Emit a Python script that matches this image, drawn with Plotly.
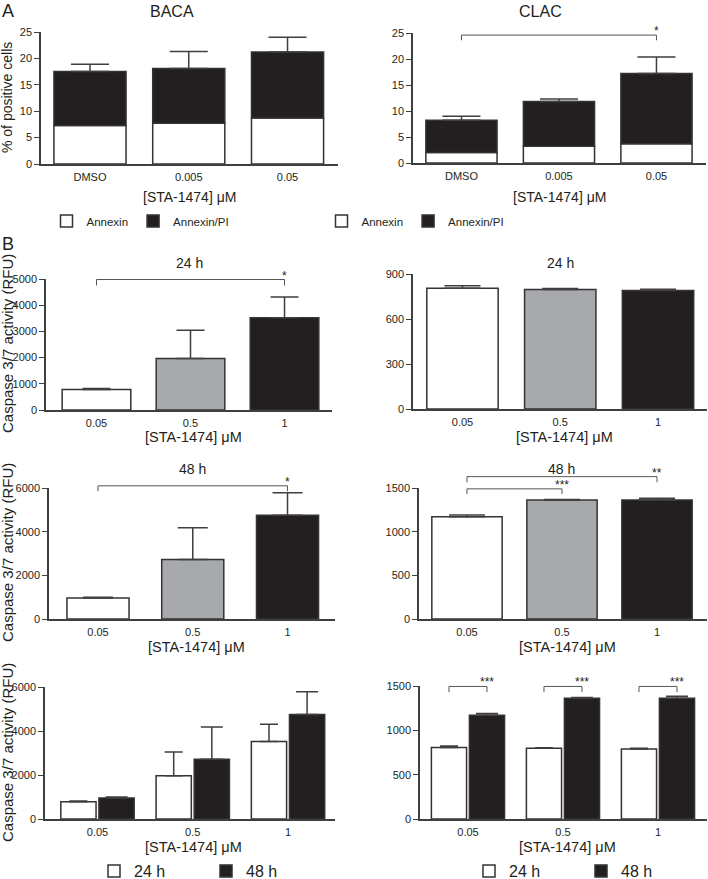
import plotly.graph_objects as go

W, H = 708, 879
FONT = "Liberation Sans, Arial, sans-serif"
TXT = "#231f20"
AX = "#3f3f3f"
WHITE, GRAY, BLACK = "#ffffff", "#a7a9ac", "#231f20"
EDGE = "#333333"

# ---------------- data ----------------
a_categories = ["DMSO", "0.005", "0.05"]
baca_annexin = [7.3, 7.7, 8.7]
baca_annexin_pi = [10.2, 10.4, 12.5]
baca_err = [1.4, 3.2, 2.8]
clac_annexin = [2.0, 3.2, 3.7]
clac_annexin_pi = [6.2, 8.65, 13.5]
clac_err = [0.8, 0.45, 3.2]

b_categories = ["0.05", "0.5", "1"]
baca_24h = [780, 1970, 3520]
baca_24h_err = [40, 1070, 790]
baca_48h = [960, 2720, 4750]
baca_48h_err = [40, 1460, 1030]
clac_24h = [805, 797, 790]
clac_24h_err = [17, 6, 9]
clac_48h = [1170, 1363, 1362]
clac_48h_err = [20, 6, 22]

ticks_a = [0, 5, 10, 15, 20, 25]
ticks_baca24 = [0, 1000, 2000, 3000, 4000, 5000]
ticks_clac24 = [0, 300, 600, 900]
ticks_baca48 = [0, 2000, 4000, 6000]
ticks_clac48 = [0, 500, 1000, 1500]

# ---------------- layout geometry (pixels) ----------------
# k: (left, right, top, bottom, xrange, yrange, yticks)
boxes = {
    1: (41, 338, 32, 164, [-0.496, 2.511], [0, 25], ticks_a),
    2: (413, 706, 33, 163, [-0.497, 2.508], [0, 25], ticks_a),
    3: (46, 332, 279, 410, [-0.537, 2.505], [0, 5000], ticks_baca24),
    4: (413, 707, 274, 409, [-0.506, 2.501], [0, 900], ticks_clac24),
    5: (49, 335, 488, 619, [-0.517, 2.501], [0, 6000], ticks_baca48),
    6: (419, 707, 488, 619, [-0.505, 2.526], [0, 1500], ticks_clac48),
    7: (45, 335, 687, 819, [-0.551, 2.493], [0, 6000], ticks_baca48),
    8: (420, 707, 686, 819, [-0.505, 2.516], [0, 1500], ticks_clac48),
}


def ax_name(k, letter):
    return letter if k == 1 else f"{letter}{k}"


def paper_xy(k, xv, yv):
    l, r, t, b, xr, yr, _ = boxes[k]
    px = l + (xv - xr[0]) / (xr[1] - xr[0]) * (r - l)
    py = b - (yv - yr[0]) / (yr[1] - yr[0]) * (b - t)
    return px / W, 1 - py / H


fig = go.Figure()

line = dict(color=EDGE, width=1.5)


def err(arr, w):
    return dict(type="data", symmetric=False, array=arr, arrayminus=[0] * len(arr),
                color=AX, thickness=1.5, width=w)


# ---------------- Panel A ----------------
for k, ann, api, e, lg in [(1, baca_annexin, baca_annexin_pi, baca_err, "legend"),
                           (2, clac_annexin, clac_annexin_pi, clac_err, "legend2")]:
    fig.add_trace(go.Bar(x=a_categories, y=ann, width=0.73, name="Annexin",
                         marker=dict(color=WHITE, line=line),
                         xaxis=ax_name(k, "x"), yaxis=ax_name(k, "y"), legend=lg))
    fig.add_trace(go.Bar(x=a_categories, y=api, base=ann, width=0.73, name="Annexin/PI",
                         marker=dict(color=BLACK, line=line), error_y=err(e, 19),
                         xaxis=ax_name(k, "x"), yaxis=ax_name(k, "y"), legend=lg))

# ---------------- Panel B rows 1-2 ----------------
for k, vals, e, wdt, cap in [(3, baca_24h, baca_24h_err, 0.73, 14),
                             (4, clac_24h, clac_24h_err, 0.73, 18),
                             (5, baca_48h, baca_48h_err, 0.655, 15),
                             (6, clac_48h, clac_48h_err, 0.74, 18)]:
    fig.add_trace(go.Bar(x=b_categories, y=vals, width=wdt, showlegend=False,
                         marker=dict(color=[WHITE, GRAY, BLACK], line=line),
                         error_y=err(e, cap),
                         xaxis=ax_name(k, "x"), yaxis=ax_name(k, "y")))

# ---------------- Panel B row 3 ----------------
for k, v24, e24, v48, e48, lg in [(7, baca_24h, baca_24h_err, baca_48h, baca_48h_err, "legend3"),
                                  (8, clac_24h, clac_24h_err, clac_48h, clac_48h_err, "legend4")]:
    fig.add_trace(go.Bar(x=b_categories, y=v24, width=0.37, offset=-0.385, name="24 h",
                         marker=dict(color=WHITE, line=line), error_y=err(e24, 9),
                         xaxis=ax_name(k, "x"), yaxis=ax_name(k, "y"), legend=lg))
    fig.add_trace(go.Bar(x=b_categories, y=v48, width=0.37, offset=0.015, name="48 h",
                         marker=dict(color=BLACK, line=line), error_y=err(e48, 11),
                         xaxis=ax_name(k, "x"), yaxis=ax_name(k, "y"), legend=lg))

# ---------------- axes ----------------
lay = {}
for k, (l, r, t, b, xr, yr, yt) in boxes.items():
    xa = "xaxis" if k == 1 else f"xaxis{k}"
    ya = "yaxis" if k == 1 else f"yaxis{k}"
    lay[xa] = dict(domain=[l / W, r / W], anchor=ax_name(k, "y"), type="category",
                   range=xr, showline=True, linecolor=AX, linewidth=1.5, ticks="",
                   showgrid=False, zeroline=False, ticklabelstandoff=2,
                   tickfont=dict(size=11, color=TXT, family=FONT), fixedrange=True)
    lay[ya] = dict(domain=[1 - b / H, 1 - t / H], anchor=ax_name(k, "x"), range=yr,
                   tickvals=yt, showline=True, linecolor=AX, linewidth=1.5,
                   ticks="outside", ticklen=5, tickwidth=1.3, tickcolor=AX,
                   showgrid=False, zeroline=False,
                   tickfont=dict(size=11, color=TXT, family=FONT), fixedrange=True)

# ---------------- text annotations ----------------
annotations = []


def txt(x, y, s, size, **kw):
    d = dict(x=x / W, y=1 - y / H, xref="paper", yref="paper", text=s, showarrow=False,
             xanchor="center", yanchor="middle",
             font=dict(size=size, color=TXT, family=FONT))
    d.update(kw)
    annotations.append(d)


txt(8, 11, "A", 18)
txt(8, 244, "B", 18)
txt(172, 11, "BACA", 16)
txt(540, 11, "CLAC", 16)
txt(189, 263, "24 h", 14)
txt(560, 263, "24 h", 14)
txt(192, 469, "48 h", 14)
txt(561, 469, "48 h", 14)

# x-axis titles
for k, y in [(1, 197), (2, 197)]:
    l, r = boxes[k][0], boxes[k][1]
    txt((l + r) / 2, y, "[STA-1474] μM", 14)
for k, y in [(3, 437), (4, 437), (5, 647), (6, 647), (7, 847), (8, 847)]:
    l, r = boxes[k][0], boxes[k][1]
    txt((l + r) / 2 + 4, y, "[STA-1474] μM", 14.5)

# y-axis titles
txt(7, 98, "% of positive cells", 14, textangle=-90)
for y in [344, 553, 753]:
    txt(7, y, "Caspase 3/7 activity (RFU)", 15, textangle=-90)

# ---------------- significance brackets ----------------
brackets = [
    (2, 0, 2, 24.6, 23.6, "*"),
    (3, 0, 2, 4980, 4750, "*"),
    (5, 0, 2, 6100, 5850, "*"),
    (6, 0, 1, 1490, 1430, "***"),
    (6, 0, 2, 1630, 1565, "**"),
    (8, -0.2, 0.2, 1495, 1430, "***"),
    (8, 0.8, 1.2, 1495, 1430, "***"),
    (8, 1.8, 2.2, 1495, 1430, "***"),
]
shapes = []
for k, x0, x1, lev, drop, lab in brackets:
    ax0, ly = paper_xy(k, x0, lev)
    ax1, dy = paper_xy(k, x1, drop)
    shapes.append(dict(type="path", xref="paper", yref="paper",
                       path=f"M {ax0} {dy} L {ax0} {ly} L {ax1} {ly} L {ax1} {dy}",
                       line=dict(color="#555555", width=1)))
    annotations.append(dict(x=ax1, y=ly, xref="paper", yref="paper", text=lab,
                            showarrow=False, xanchor="center", yanchor="bottom", yshift=-5,
                            font=dict(size=12, color=TXT, family=FONT)))


# ---------------- legends ----------------
def legend(xpx, ypx, size, ew=None):
    d = dict(orientation="h", x=xpx / W, y=1 - ypx / H, xanchor="left", yanchor="middle",
             font=dict(size=size, color=TXT, family=FONT), bgcolor="rgba(0,0,0,0)",
             traceorder="normal", itemclick=False, itemdoubleclick=False)
    if ew:
        d.update(entrywidth=ew, entrywidthmode="pixels")
    return d


fig.update_layout(
    width=W, height=H, barmode="overlay",
    margin=dict(l=0, r=0, t=0, b=0, autoexpand=False),
    paper_bgcolor="white", plot_bgcolor="white",
    font=dict(family=FONT, color=TXT),
    annotations=annotations, shapes=shapes,
    legend=legend(46.5, 221, 11.5),
    legend2=legend(321.5, 221, 11.5),
    legend3=legend(94, 871, 16, 67),
    legend4=legend(469, 871, 16, 67),
    **lay,
)

fig.write_html("out.html", config={"displayModeBar": False},
               post_script="document.body.style.margin='0';document.body.style.overflow='hidden';")
